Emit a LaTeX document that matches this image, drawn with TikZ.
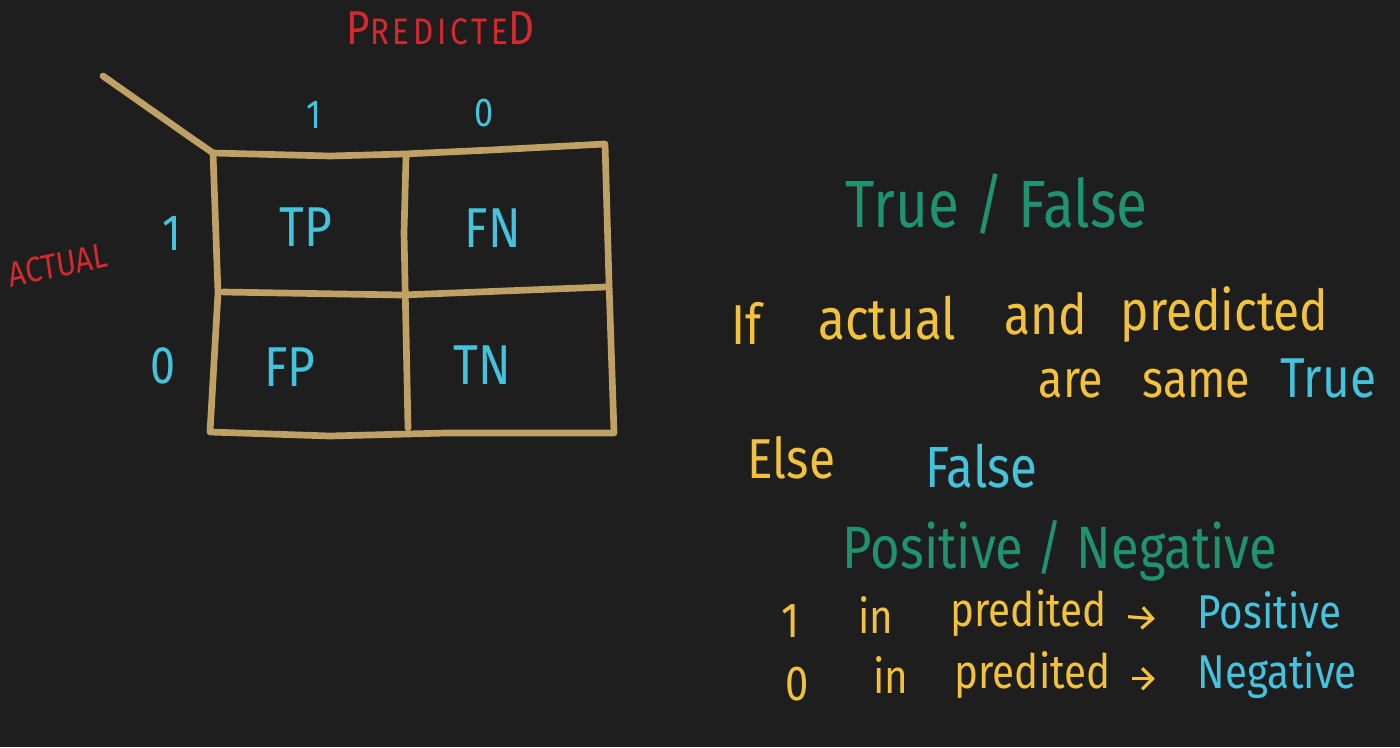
\documentclass[tikz,border=0pt]{standalone}
\usepackage{fontspec}
\setmainfont{Fira Sans}
\usetikzlibrary{arrows.meta}
\definecolor{board}{HTML}{1E1E1E}
\definecolor{chalk}{HTML}{BFA065}
\definecolor{redink}{HTML}{D42A2F}
\definecolor{blueink}{HTML}{45C3DD}
\definecolor{greenink}{HTML}{1F9270}
\definecolor{yellowink}{HTML}{F3C23C}
\tikzset{
  gridline/.style={chalk, line width=1.9pt, line cap=round, line join=round},
  ink/.style={inner sep=0pt, xscale=0.85},
  redtxt/.style={ink, text=redink},
  bluetxt/.style={ink, text=blueink},
  greentxt/.style={ink, text=greenink},
  yellowtxt/.style={ink, text=yellowink},
  arrowink/.style={yellowink, line width=0.9pt, -{Straight Barb[length=3pt]}}
}
\newcommand{\fs}[1]{\fontsize{#1}{#1}\selectfont}
\begin{document}
\begin{tikzpicture}[x=0.1mm, y=-0.1mm]
  % Board:
  \fill[board] (0,0) rectangle (1400,747);
  % Grid corners:
  \coordinate (tl) at (213,153);
  \coordinate (tr) at (605,144);
  \coordinate (br) at (614,433);
  \coordinate (bl) at (210,432);
  \coordinate (ml) at (223,292);
  \coordinate (mr) at (605,287);
  \coordinate (mt) at (406,156);
  \coordinate (mb) at (408,428);
  \coordinate (tail) at (103,76);
  % Grid lines:
  \draw[gridline] (tail) -- (187,135) -- (tl);
  \draw[gridline] (tl) -- (330,156) -- (404,154) -- (491,150) -- (tr) -- (609,283) -- (br)
    -- (446,433) -- (330,436) -- (bl) -- (218,293) -- cycle;
  \draw[gridline] (ml) -- (402,295) -- (mr);
  \draw[gridline] (mt) -- (404,233) -- (mb);
  % Axis labels:
  \node[redtxt, anchor=base west] (predicted) at (346,44)
    {\fs{13.5}P\fs{10.5}\addfontfeature{LetterSpace=12}REDICTE\fs{13.5}D};
  \node[redtxt, rotate=10] (actual) at (58,265) {\fs{10}ACTUAL};
  \node[bluetxt] (pone) at (314,115) {\fs{11.5}1};
  \node[bluetxt] (pzero) at (484,113) {\fs{11.5}0};
  \node[bluetxt] (aone) at (172,233) {\fs{14.5}1};
  \node[bluetxt] (azero) at (163,366) {\fs{15}0};
  % Cells:
  \node[bluetxt] (tp) at (306,227) {\fs{16}TP};
  \node[bluetxt] (fn) at (493,228) {\fs{16}FN};
  \node[bluetxt] (fp) at (290,367) {\fs{16}FP};
  \node[bluetxt] (tn) at (482,365) {\fs{16}TN};
  % Notes:
  \node[greentxt, anchor=base west] (truefalse) at (845,227) {\fs{19}True / False};
  \node[yellowtxt, anchor=base west] (wif) at (731,344) {\fs{16}If};
  \node[yellowtxt, anchor=base west] (wactual) at (818,339) {\fs{16.5}actual};
  \node[yellowtxt, anchor=base west] (wand) at (1004,334) {\fs{16}and};
  \node[yellowtxt, anchor=base west] (wpredicted) at (1120,330) {\fs{16}predicted};
  \node[yellowtxt, anchor=base west] (ware) at (1038,397) {\fs{15}are};
  \node[yellowtxt, anchor=base west] (wsame) at (1142,397) {\fs{15}same};
  \node[bluetxt, anchor=base west] (wtrue) at (1280,397) {\fs{16}True};
  \node[yellowtxt, anchor=base west] (welse) at (747,478) {\fs{16}Else};
  \node[bluetxt, anchor=base west] (wfalse) at (925,487) {\fs{16.5}False};
  \node[greentxt, anchor=base west] (posneg) at (842,568) {\fs{17}Positive / Negative};
  % Rules:
  \node[yellowtxt, anchor=base west] (rone) at (781,637) {\fs{14}1};
  \node[yellowtxt, anchor=base west] (rinone) at (858,633) {\fs{13.5}in};
  \node[yellowtxt, anchor=base west] (rpredone) at (950,626) {\fs{13.5}predited};
  \node[bluetxt, anchor=base west] (rpos) at (1197,628) {\fs{13.5}Positive};
  \node[yellowtxt, anchor=base west] (rzero) at (785,700) {\fs{14}0};
  \node[yellowtxt, anchor=base west] (rinzero) at (873,693) {\fs{13.5}in};
  \node[yellowtxt, anchor=base west] (rpredzero) at (954,688) {\fs{13.5}predited};
  \node[bluetxt, anchor=base west] (rneg) at (1197,688) {\fs{13.5}Negative};
  \draw[arrowink] ([xshift=6pt]rpredone.mid east) -- ([xshift=-12pt]rpos.mid west);
  \draw[arrowink] ([xshift=6pt]rpredzero.mid east) -- ([xshift=-12pt]rneg.mid west);
\end{tikzpicture}
\end{document}
